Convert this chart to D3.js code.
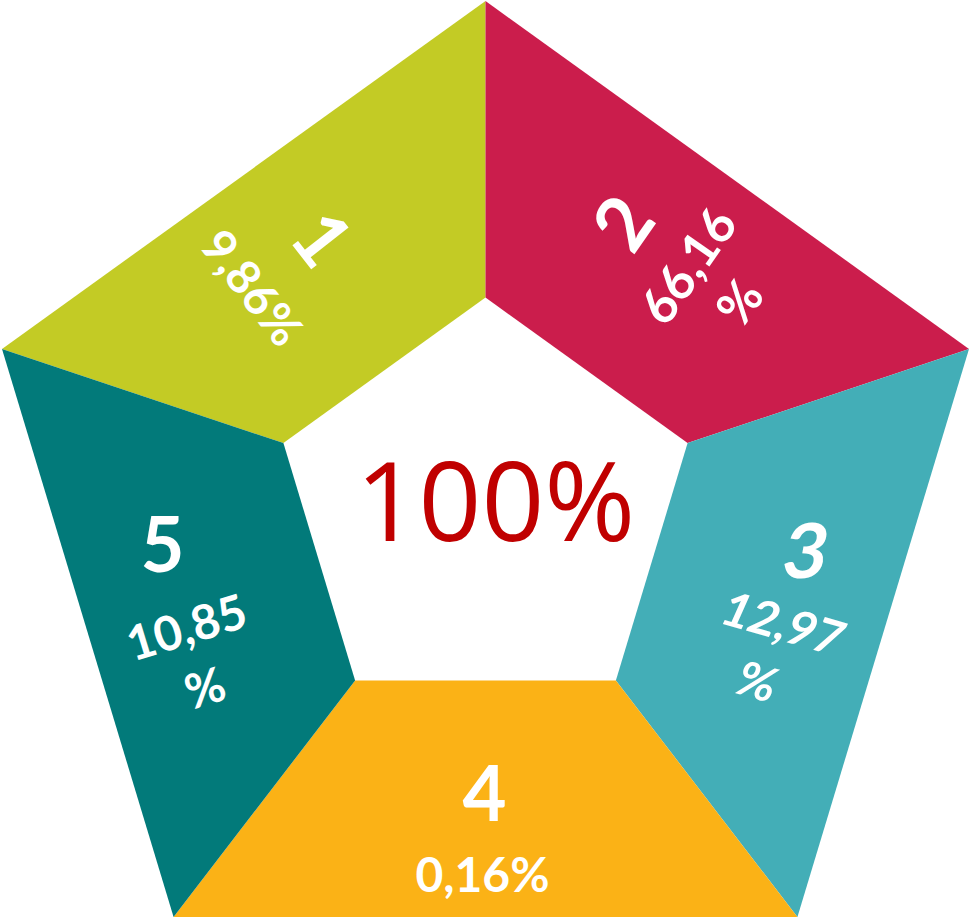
<!DOCTYPE html>
<html>
<head>
<meta charset="utf-8">
<script src="https://cdn.jsdelivr.net/npm/d3@7"></script>
<style>
  html, body { margin: 0; padding: 0; background: #fff; }
  svg { display: block; }
</style>
</head>
<body>
<svg id="chart" width="969" height="918"></svg>
<script>
// data
const categories = ['1', '2', '3', '4', '5'];
const shares = [9.86, 66.16, 12.97, 0.16, 10.85];
const totalShare = 100;
const colors = ['#C3CB25', '#CB1D4C', '#43AEB7', '#FBB216', '#027A7A'];

// pentagon geometry (unit space): vertex angles in degrees, starting at the top
const VERTEX_ANGLES = [-90, -18.5, 52.5, 127.5, 198.5];
const VERTEX_RADII = [1, 1, 1.005, 1.005, 1];
const INNER_RATIO = 0.418;

// label placement relative to each segment's centre (px), rotation in degrees
const labelLayout = [
  { num: [8, -34], numRot: 52, val: [-62, 15], valRot: 52, valSize: 47, wrap: false },
  { num: [-34, -50], numRot: -55, val: [31, -7], valRot: -55, valSize: 50, wrap: true },
  { num: [39, -47], numRot: 0, numSkew: -10, val: [16, 26], valRot: 16, valSkew: -8, valSize: 48, wrap: true },
  { num: [-1, -5], numRot: 0, val: [-3, 76], valRot: 0, valSize: 48, wrap: false },
  { num: [-41, -53], numRot: 0, val: [-17, 30], valRot: -17, valSize: 48, wrap: true },
];

const svg = d3.select('#chart');

const unitPt = (i, r) => {
  const a = VERTEX_ANGLES[i] * Math.PI / 180;
  return [Math.cos(a) * r * VERTEX_RADII[i], Math.sin(a) * r * VERTEX_RADII[i]];
};
const outerUnit = d3.range(5).map(i => unitPt(i, 1));
const innerUnit = d3.range(5).map(i => unitPt(i, INNER_RATIO));

const x = d3.scaleLinear().domain(d3.extent(outerUnit, p => p[0])).range([2, 969]);
const y = d3.scaleLinear().domain(d3.extent(outerUnit, p => p[1])).range([1, 917]);
const px = p => [x(p[0]), y(p[1])];

const locale = d3.formatLocale({ decimal: ',', thousands: '.', grouping: [3], currency: ['', ''] });
const fmt = locale.format('.2f');

// segment i runs from vertex (i + 4) % 5 to vertex i
const segments = categories.map((c, i) => {
  const a = (i + 4) % 5, b = i;
  const pts = [outerUnit[a], outerUnit[b], innerUnit[b], innerUnit[a]].map(px);
  return {
    cat: c,
    share: shares[i],
    color: colors[i],
    pts,
    cx: d3.mean(pts, p => p[0]),
    cy: d3.mean(pts, p => p[1]),
    layout: labelLayout[i],
  };
});

const line = d3.line().curve(d3.curveLinearClosed);

svg.append('g')
  .selectAll('path.seg')
  .data(segments)
  .join('path')
    .classed('seg', true)
    .attr('d', d => line(d.pts))
    .attr('fill', d => d.color);

const labels = svg.append('g')
  .selectAll('g.label')
  .data(segments)
  .join('g')
    .classed('label', true)
    .attr('transform', d => `translate(${d.cx}, ${d.cy})`)
    .style('font-family', 'Lato, "Open Sans", sans-serif')
    .style('font-weight', 700)
    .attr('fill', '#fff')
    .attr('text-anchor', 'middle');

labels.append('text')
  .attr('transform', d => {
    const l = d.layout;
    return `translate(${l.num[0]}, ${l.num[1]}) rotate(${l.numRot}) skewX(${l.numSkew || 0})`;
  })
  .attr('dy', '0.36em')
  .style('font-size', '76px')
  .text(d => d.cat);

labels.append('text')
  .attr('transform', d => {
    const l = d.layout;
    return `translate(${l.val[0]}, ${l.val[1]}) rotate(${l.valRot}) skewX(${l.valSkew || 0})`;
  })
  .style('font-size', d => d.layout.valSize + 'px')
  .each(function(d) {
    const t = d3.select(this);
    const num = fmt(d.share);
    const lines = d.layout.wrap ? [num, '%'] : [num + '%'];
    lines.forEach((s, k) => {
      t.append('tspan')
        .attr('x', 0)
        .attr('y', k * 63)
        .attr('dy', '0.36em')
        .text(s);
    });
  });

// centre total
const c = px([0, 0]);
svg.append('text')
  .attr('x', c[0] + 10)
  .attr('y', c[1] + 30)
  .attr('text-anchor', 'middle')
  .style('font-family', '"Open Sans", sans-serif')
  .style('font-size', '110px')
  .style('font-weight', 500)
  .attr('fill', '#C00000')
  .text(totalShare + '%');
</script>
</body>
</html>
